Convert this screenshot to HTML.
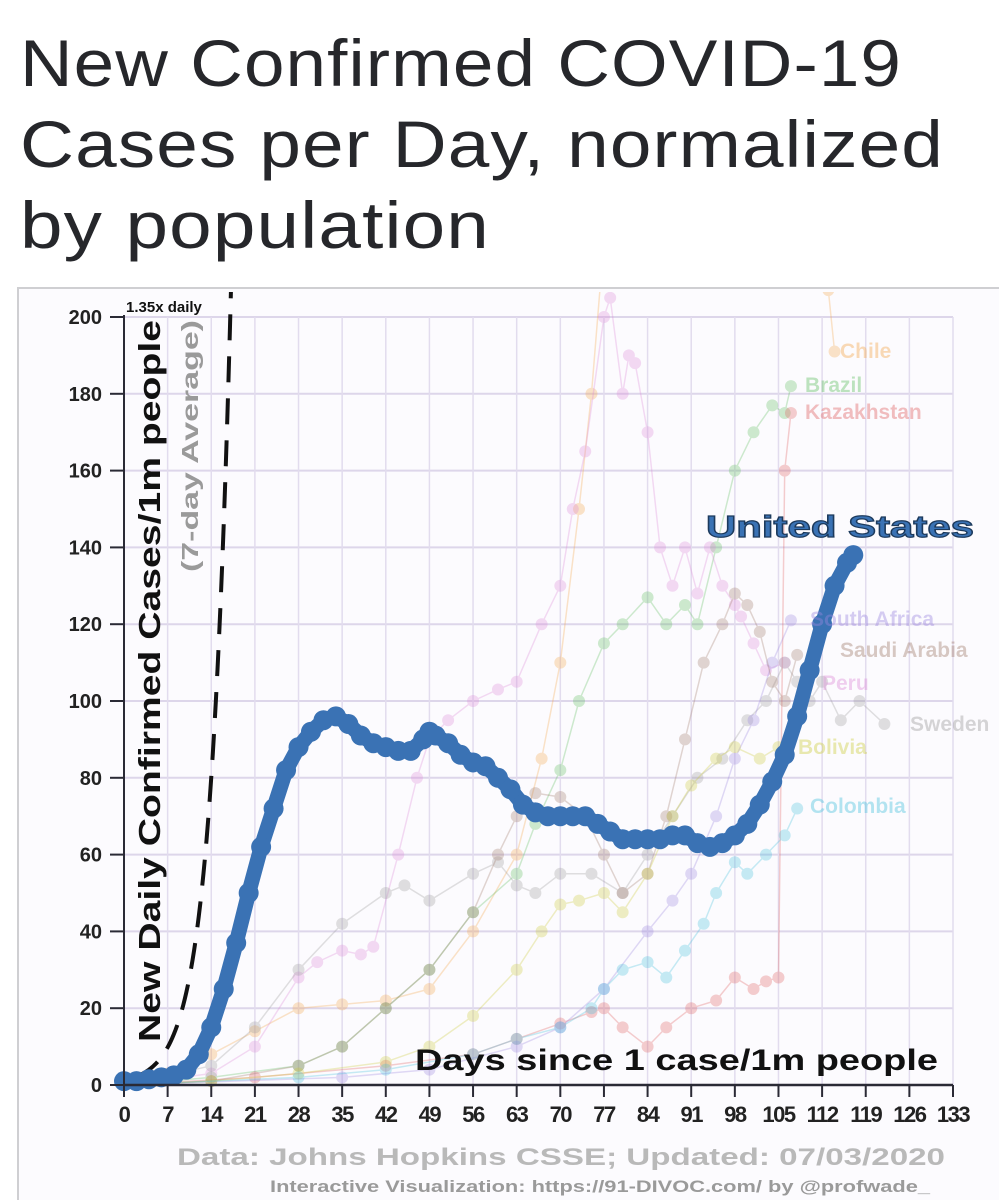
<!DOCTYPE html>
<html><head><meta charset="utf-8"><style>
html,body{margin:0;padding:0;background:#fff;width:999px;height:1200px;overflow:hidden}
svg{display:block;font-family:"Liberation Sans",sans-serif}
</style></head><body>
<svg id="chart" width="999" height="1200" viewBox="0 0 999 1200">
<g fill="#26272b" font-size="66" letter-spacing="1">
<text x="20" y="86" textLength="882" lengthAdjust="spacingAndGlyphs">New Confirmed COVID-19</text>
<text x="20" y="167" textLength="924" lengthAdjust="spacingAndGlyphs">Cases per Day, normalized</text>
<text x="20" y="248" textLength="470" lengthAdjust="spacingAndGlyphs">by population</text>
</g>
<rect x="18" y="288" width="990" height="920" fill="#fcfbfe" stroke="#cfcfd2" stroke-width="2"/>
<g id="grid"></g>
<g id="series"></g>
<g id="axes"></g>
<g id="labels"></g>
</svg>
<script>
const NS="http://www.w3.org/2000/svg";
const yTicks=[0,20,40,60,80,100,120,140,160,180,200];
const xTicks=[0,7,14,21,28,35,42,49,56,63,70,77,84,91,98,105,112,119,126,133];
const usDays=[0,2,4,6,8,10,12,14,16,18,20,22,24,26,28,30,32,34,36,38,40,42,44,46,48,49,50,52,54,56,58,60,62,64,66,68,70,72,74,76,78,80,82,84,86,88,90,92,94,96,98,100,102,104,106,108,110,112,114,116,117];
const usVals=[1,1,1.5,2,2.5,4,8,15,25,37,50,62,72,82,88,92,95,96,94,91,89,88,87,87,90,92,91,89,86,84,83,80,77,73,71,70,70,70,70,68,66,64,64,64,64,65,65,63,62,63,65,68,73,79,86,96,108,120,130,136,138];
const chileDays=[0,7,14,21,28,35,42,49,56,63,67,70,73,75,77,79,113,114];
const chileVals=[1,3,8,14,20,21,22,25,40,60,85,110,150,180,220,260,207,191];
const brazilDays=[0,14,28,35,42,49,56,63,66,70,73,77,80,84,87,90,92,95,98,101,104,106,107];
const brazilVals=[0,2,5,10,20,30,45,55,68,82,100,115,120,127,120,125,120,140,160,170,177,175,182];
const kazDays=[0,21,42,56,63,70,75,77,80,84,87,91,95,98,101,103,105,106,107];
const kazVals=[0,2,5,8,12,16,19,20,15,10,15,20,22,28,25,27,28,160,175];
const peruDays=[0,14,21,28,31,35,38,40,44,47,49,52,56,60,63,67,70,72,74,77,78,80,81,82,84,86,88,90,92,94,96,98,99,101,103,106];
const peruVals=[0,3,10,28,32,35,34,36,60,80,90,95,100,103,105,120,130,150,165,200,205,180,190,188,170,140,130,140,128,140,130,125,122,115,108,110];
const swedenDays=[0,14,21,28,35,42,45,49,56,60,63,66,70,75,80,84,88,92,96,100,103,106,108,110,112,115,118,122];
const swedenVals=[0,5,15,30,42,50,52,48,55,58,52,50,55,55,50,60,70,80,85,95,100,110,105,100,105,95,100,94];
const safDays=[0,35,49,63,70,77,84,88,91,95,98,101,104,107];
const safVals=[0,2,4,10,15,25,40,48,55,70,85,95,110,121];
const saudiDays=[0,14,28,35,42,49,56,60,63,66,70,74,77,80,84,87,90,93,96,98,100,102,104,106,108];
const saudiVals=[0,1,5,10,20,30,45,60,70,76,75,70,60,50,55,70,90,110,120,128,125,118,105,100,112];
const boliviaDays=[0,14,28,42,49,56,63,67,70,73,77,80,84,88,91,95,98,102,105];
const boliviaVals=[0,1,3,6,10,18,30,40,47,48,50,45,55,70,78,85,88,85,88];
const colDays=[0,28,42,56,63,70,75,77,80,84,87,90,93,95,98,100,103,106,108];
const colVals=[0,2,4,8,12,15,20,25,30,32,28,35,42,50,58,55,60,65,72];

const X0=124,X1=953,Y0=1085,Y1=317;
const xs=d=>X0+(X1-X0)*d/133;
const ys=v=>Y0-(Y0-Y1)*v/200;
function el(tag,attrs,parent){const e=document.createElementNS(NS,tag);for(const k in attrs)e.setAttribute(k,attrs[k]);parent.appendChild(e);return e;}

const grid=document.getElementById('grid');
for(const t of yTicks){const l=el('line',{x1:X0,x2:X1,y1:ys(t),y2:ys(t),stroke:'#ddd6ea','stroke-width':2},grid);

}
for(const t of xTicks){const l=el('line',{x1:xs(t),x2:xs(t),y1:Y0,y2:Y1,stroke:'#e2dcee','stroke-width':1.5},grid);

}

const defs=el('defs',{},document.getElementById('chart'));
const cp=el('clipPath',{id:'plotclip'},defs);
el('rect',{x:X0-10,y:292,width:X1-X0+60,height:Y0-292+10},cp);

const S=document.getElementById('series');
S.setAttribute('clip-path','url(#plotclip)');
function drawSeries(name,days,vals,color,op,r,w){
 const g=el('g',{opacity:op},S);
 
 
 const pts=days.map((d,i)=>xs(d)+','+ys(vals[i])).join(' ');
 const pl=el('polyline',{points:pts,fill:'none',stroke:color,'stroke-width':w,'stroke-linejoin':'round'},g);
 
 
 days.forEach((d,i)=>{const c=el('circle',{cx:xs(d),cy:ys(vals[i]),r:r,fill:color},g);
  
  });
}
drawSeries('chile',chileDays,chileVals,'#f4a64a',0.3,6,1.5);
drawSeries('brazil',brazilDays,brazilVals,'#5fbf5f',0.3,6,1.5);
drawSeries('kazakhstan',kazDays,kazVals,'#e06060',0.3,6,1.5);
drawSeries('peru',peruDays,peruVals,'#dd8ad8',0.3,6,1.5);
drawSeries('sweden',swedenDays,swedenVals,'#9a9a9a',0.3,6,1.5);
drawSeries('south-africa',safDays,safVals,'#9b86e0',0.3,6,1.5);
drawSeries('saudi-arabia',saudiDays,saudiVals,'#a07a6a',0.3,6,1.5);
drawSeries('bolivia',boliviaDays,boliviaVals,'#cccc3a',0.3,6,1.5);
drawSeries('colombia',colDays,colVals,'#45c0dd',0.3,6,1.5);

const gd=[];for(let d=2;d<=18;d+=0.25){gd.push(xs(d)+','+ys(1.2*Math.pow(1.35,d)));}
const guide=el('polyline',{points:gd.join(' '),fill:'none',stroke:'#111','stroke-width':4,'stroke-dasharray':'26,16'},S);



drawSeries('united-states',usDays,usVals,'#3a72b4',1,10,15);

const A=document.getElementById('axes');
el('line',{x1:X0,x2:X0,y1:Y1-2,y2:Y0,stroke:'#2a2a35','stroke-width':2},A);
el('line',{x1:X0,x2:X1,y1:Y0,y2:Y0,stroke:'#2a2a35','stroke-width':2.5},A);
for(const t of yTicks){
 el('line',{x1:X0-14,x2:X0,y1:ys(t),y2:ys(t),stroke:'#2a2a35','stroke-width':2},A);
 const tx=el('text',{x:X0-22,y:ys(t)+7,'text-anchor':'end','font-size':20,'font-weight':'bold',fill:'#222'},A);
 tx.textContent=t;
 
 
}
for(const t of xTicks){
 el('line',{x1:xs(t),x2:xs(t),y1:Y0,y2:Y0+12,stroke:'#2a2a35','stroke-width':2},A);
 const tx=el('text',{x:xs(t),y:Y0+37,'text-anchor':'middle','font-size':22,'font-weight':'bold',fill:'#222','letter-spacing':'-1.5'},A);
 tx.textContent=t;
 
 
}
</script>
<script>
const L=document.getElementById('labels');
L.innerHTML=`
<text x="126" y="312" font-size="15" font-weight="bold" fill="#111">1.35x daily</text>
<text transform="translate(160,1042) rotate(-90)" font-size="31" font-weight="bold" fill="#111" textLength="722" lengthAdjust="spacingAndGlyphs">New Daily Confirmed Cases/1m people</text>
<text transform="translate(198,572) rotate(-90)" font-size="23" font-weight="bold" fill="#9a9a9a" textLength="252" lengthAdjust="spacingAndGlyphs">(7-day Average)</text>
<text x="415" y="1070" font-size="30" font-weight="bold" fill="#111" textLength="523" lengthAdjust="spacingAndGlyphs">Days since 1 case/1m people</text>
<text x="706" y="537" font-size="31" font-weight="bold" fill="#3a72b4" stroke="#1d3a5c" stroke-width="1.2" textLength="268" lengthAdjust="spacingAndGlyphs">United States</text>
<g font-size="21" font-weight="bold" opacity="0.4">
<text x="840" y="358" fill="#f4a64a">Chile</text>
<text x="805" y="392" fill="#5fbf5f">Brazil</text>
<text x="805" y="419" fill="#e06060">Kazakhstan</text>
<text x="810" y="626" fill="#9b86e0">South Africa</text>
<text x="840" y="657" fill="#a07a6a">Saudi Arabia</text>
<text x="822" y="690" fill="#dd8ad8">Peru</text>
<text x="910" y="731" fill="#9a9a9a">Sweden</text>
<text x="798" y="754" fill="#cccc3a">Bolivia</text>
<text x="810" y="813" fill="#45c0dd">Colombia</text>
</g>
<text x="945" y="1165" text-anchor="end" font-size="24" font-weight="bold" fill="#b9b9b9" textLength="768" lengthAdjust="spacingAndGlyphs">Data: Johns Hopkins CSSE; Updated: 07/03/2020</text>
<text x="930" y="1192" text-anchor="end" font-size="17" font-weight="bold" fill="#9a9a9a" textLength="660" lengthAdjust="spacingAndGlyphs">Interactive Visualization: https://91-DIVOC.com/ by @profwade_</text>`;
</script>
</body></html>
